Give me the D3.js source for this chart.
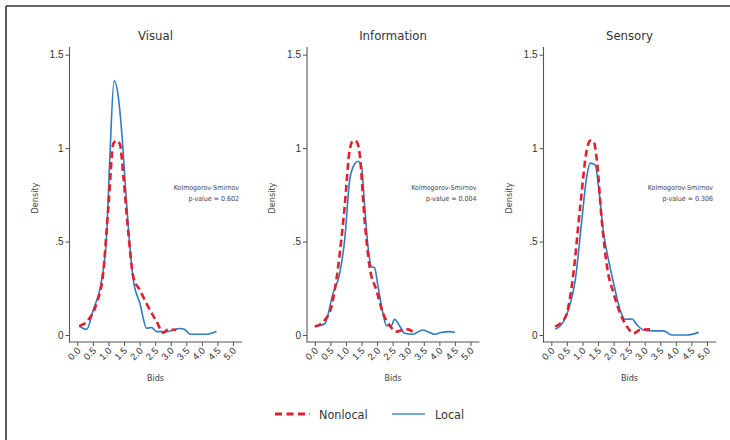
<!DOCTYPE html>
<html>
<head>
<meta charset="utf-8">
<script src="https://cdn.jsdelivr.net/npm/d3@7"></script>
<style>
  body { margin: 0; background: #fff; }
  svg { display: block; font-family: "DejaVu Sans Condensed", "Roboto", sans-serif; font-stretch: condensed; }
</style>
</head>
<body>
<svg id="chart" width="730" height="440"></svg>
<script>
// panels
const panelTitles = ["Visual", "Information", "Sensory"];
const pValues = ["p-value = 0.602", "p-value = 0.004", "p-value = 0.306"];
const xTicks = [0, 0.5, 1, 1.5, 2, 2.5, 3, 3.5, 4, 4.5, 5];
const yTicks = [0, 0.5, 1, 1.5];
const yTickLabels = ["0", ".5", "1", "1.5"];

// density curves: [bid, density]
const visualLocal = [[0.06,0.048],[0.3,0.03],[0.51,0.134],[0.78,0.294],[0.94,0.53],[1.05,0.97],[1.18,1.36],[1.32,1.27],[1.42,1.10],[1.56,0.76],[1.69,0.47],[1.8,0.294],[2.01,0.17],[2.23,0.036],[2.38,0.04],[2.55,0.018],[2.87,0.018],[3.08,0.027],[3.29,0.035],[3.45,0.03],[3.62,0.004],[4.15,0.004],[4.32,0.01],[4.47,0.02]];
const visualNonlocal = [[0.06,0.048],[0.35,0.08],[0.62,0.17],[0.83,0.33],[1.0,0.69],[1.16,1.025],[1.26,1.04],[1.37,1.02],[1.48,0.85],[1.64,0.544],[1.8,0.31],[2.01,0.24],[2.28,0.15],[2.55,0.071],[2.76,0.012],[2.92,0.03],[3.18,0.027]];
const infoLocal = [[0.0,0.045],[0.32,0.06],[0.58,0.22],[0.8,0.33],[0.96,0.51],[1.12,0.83],[1.23,0.9],[1.39,0.93],[1.5,0.9],[1.6,0.69],[1.71,0.47],[1.82,0.365],[1.92,0.36],[2.03,0.26],[2.19,0.116],[2.3,0.05],[2.46,0.05],[2.56,0.084],[2.72,0.05],[2.89,0.009],[3.14,0.004],[3.47,0.027],[3.63,0.018],[3.85,0.004],[4.06,0.013],[4.33,0.018],[4.5,0.013]];
const infoNonlocal = [[0.0,0.045],[0.32,0.08],[0.53,0.15],[0.75,0.365],[0.96,0.69],[1.12,0.99],[1.23,1.04],[1.34,1.035],[1.44,0.97],[1.6,0.615],[1.76,0.365],[1.98,0.24],[2.19,0.116],[2.41,0.05],[2.62,0.018],[2.83,0.027],[2.99,0.03],[3.14,0.018]];
const sensoryLocal = [[0.125,0.03],[0.39,0.071],[0.55,0.134],[0.77,0.294],[0.98,0.615],[1.14,0.85],[1.25,0.92],[1.41,0.91],[1.52,0.79],[1.68,0.544],[1.84,0.4],[2.0,0.277],[2.21,0.134],[2.37,0.084],[2.59,0.086],[2.75,0.054],[2.96,0.027],[3.28,0.022],[3.6,0.022],[3.87,0.0],[4.35,0.0],[4.73,0.014]];
const sensoryNonlocal = [[0.125,0.045],[0.34,0.071],[0.5,0.116],[0.71,0.33],[0.93,0.69],[1.14,0.99],[1.25,1.04],[1.36,1.035],[1.46,0.94],[1.62,0.615],[1.79,0.365],[2.0,0.223],[2.21,0.116],[2.43,0.045],[2.64,0.009],[2.85,0.027],[3.17,0.03]];

const localSeries = [visualLocal, infoLocal, sensoryLocal];
const nonlocalSeries = [visualNonlocal, infoNonlocal, sensoryNonlocal];

const red = "#e41e2b";
const blue = "#2f7cc2";

const svg = d3.select("#chart");

// frame lines (top and left only)
svg.append("line").attr("x1", 6).attr("x2", 730).attr("y1", 6).attr("y2", 6)
    .attr("stroke", "#333").attr("stroke-width", 1.6);
svg.append("line").attr("x1", 6).attr("x2", 6).attr("y1", 6).attr("y2", 440)
    .attr("stroke", "#333").attr("stroke-width", 1.6);

const panelLeft = [69.5, 307, 543.5];
const axisColor = "#555";

panelTitles.forEach((title, i) => {
    const left = panelLeft[i];
    const g = svg.append("g").attr("transform", `translate(${left},0)`);

    const x = d3.scaleLinear().domain([0, 5]).range([7.8, 163.5]);
    const y = d3.scaleLinear().domain([0, 1.5]).range([335, 54.7]);

    // y axis
    const yAxis = d3.axisLeft(y).tickValues(yTicks)
        .tickFormat((d, k) => yTickLabels[k]).tickSize(4).tickPadding(2);
    const gy = g.append("g").call(yAxis);
    gy.select(".domain").remove();
    g.append("line").attr("x1", 0).attr("x2", 0).attr("y1", 47).attr("y2", 342.5)
        .attr("stroke", axisColor).attr("stroke-width", 1.1);
    gy.selectAll(".tick line").attr("stroke", axisColor);
    gy.selectAll(".tick text").attr("font-size", 10).attr("fill", "#333");

    // x axis
    const xAxis = d3.axisBottom(x).tickValues(xTicks)
        .tickFormat(d3.format(".1f")).tickSize(4).tickPadding(0);
    const gx = g.append("g").attr("transform", "translate(0,342)").call(xAxis);
    gx.select(".domain").remove();
    g.append("line").attr("x1", 0).attr("x2", 172.5).attr("y1", 342).attr("y2", 342)
        .attr("stroke", axisColor).attr("stroke-width", 1.1);
    gx.selectAll(".tick line").attr("stroke", axisColor);
    gx.selectAll(".tick text")
        .attr("font-size", 9.5).attr("fill", "#333")
        .attr("text-anchor", "end")
        .attr("y", 0).attr("dy", "0.35em")
        .attr("transform", "translate(1,7) rotate(-45)");

    // titles
    g.append("text").attr("x", 86).attr("y", 40).attr("text-anchor", "middle")
        .attr("font-size", 13).attr("fill", "#333").text(title);
    g.append("text").attr("x", 86).attr("y", 381).attr("text-anchor", "middle")
        .attr("font-size", 9).attr("fill", "#444").text("Bids");
    g.append("text").attr("transform", "translate(-32,198) rotate(-90)")
        .attr("text-anchor", "middle").attr("font-size", 9).attr("fill", "#444").text("Density");

    // test annotation
    g.append("text").attr("x", 169.5).attr("y", 190).attr("text-anchor", "end")
        .attr("font-size", 7).attr("fill", "#444").text("Kolmogorov-Smirnov");
    g.append("text").attr("x", 169.5).attr("y", 201).attr("text-anchor", "end")
        .attr("font-size", 7).attr("fill", "#444").text(pValues[i]);

    const line = d3.line().x(d => x(d[0])).y(d => y(d[1])).curve(d3.curveMonotoneX);

    g.append("path").datum(localSeries[i]).attr("d", line)
        .attr("fill", "none").attr("stroke", blue).attr("stroke-width", 1.6);
    g.append("path").datum(nonlocalSeries[i]).attr("d", line)
        .attr("fill", "none").attr("stroke", red).attr("stroke-width", 2.6)
        .attr("stroke-dasharray", "7,4");
});

// legend
const legend = svg.append("g");
legend.append("line").attr("x1", 275).attr("x2", 310).attr("y1", 414).attr("y2", 414)
    .attr("stroke", red).attr("stroke-width", 3).attr("stroke-dasharray", "7,4.5");
legend.append("text").attr("x", 319).attr("y", 418.5).attr("font-size", 12.5)
    .attr("fill", "#333").text("Nonlocal");
legend.append("line").attr("x1", 392).attr("x2", 425).attr("y1", 414).attr("y2", 414)
    .attr("stroke", "#4a8bd0").attr("stroke-width", 1.6);
legend.append("text").attr("x", 435).attr("y", 418.5).attr("font-size", 12.5)
    .attr("fill", "#333").text("Local");
</script>
</body>
</html>
